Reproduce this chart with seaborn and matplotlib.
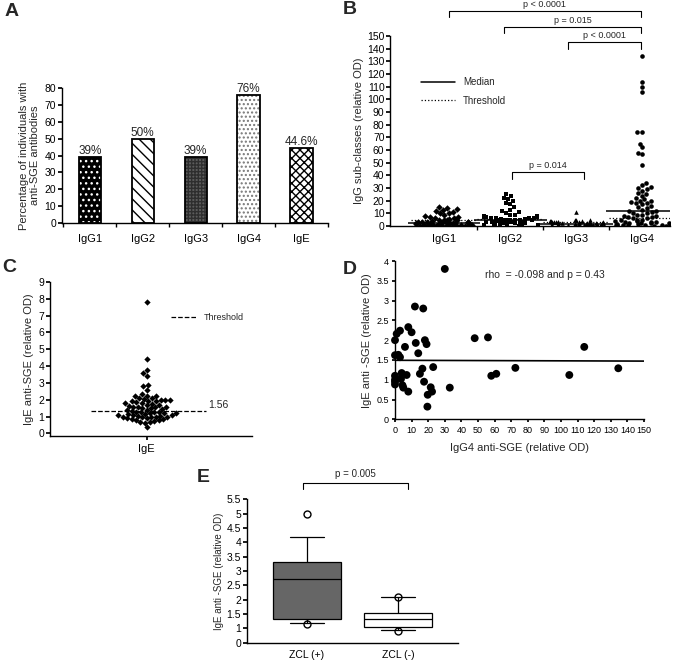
"""
Five-panel antibody figure (A-E) recreated with seaborn.
"""

import warnings
import numpy as np
import pandas as pd
import matplotlib
matplotlib.use("Agg")
import matplotlib.pyplot as plt
from matplotlib.lines import Line2D
from matplotlib.patches import Rectangle
from matplotlib.ticker import FuncFormatter
import seaborn as sns

warnings.filterwarnings("ignore")
np.random.seed(3)  # only for the horizontal jitter of the dense strip points

# ---------------- data ----------------
# A: share of positive individuals
ab_classes = ["IgG1", "IgG2", "IgG3", "IgG4", "IgE"]
pct_positive = [39, 50, 39, 76, 44.6]
pct_labels = ["39%", "50%", "39%", "76%", "44.6%"]

# B: IgG sub-classes (relative OD)
igg_classes = ["IgG1", "IgG2", "IgG3", "IgG4"]
igg1 = [15, 14, 13.5, 12.5, 12, 11, 10.5, 10, 9, 8, 7.5, 7, 6.5, 6, 5.5, 5, 5,
        4.5, 4.5, 4, 4, 3.5, 3.5, 3, 3, 3, 2.5, 2.5, 2.5, 2, 2, 2, 2, 1.5, 1.5,
        1.5, 1.5, 1.2, 1.2, 1, 1, 1, 1, 0.8, 0.8, 0.6, 0.6, 0.5, 0.5, 0.5, 0.4,
        0.3, 0.3, 0.3, 0.2, 0.2, 0.2, 0.1, 0.1, 0.1]
igg2 = [25, 24, 22, 21, 20, 18, 17, 15, 13, 12, 11, 10, 9, 9, 8, 8, 7, 7, 7, 6,
        6, 6, 6, 5.5, 5.5, 5, 5, 5, 5, 4.5, 4.5, 4.5, 4, 4, 4, 4, 3.5, 3.5, 3.5,
        3, 3, 3, 3, 2.5, 2.5, 2.5, 2, 2, 2, 2, 1.5, 1.5, 1.2, 1, 1, 0.8, 0.5, 0.3]
igg3 = [11, 5, 4.5, 4.5, 4, 4, 4, 3.5, 3.5, 3.5, 3, 3, 3, 3, 2.5, 2.5, 2.5, 2,
        2, 2, 2, 1.5, 1.5, 1.5, 1.5, 1.2, 1.2, 1.2, 1, 1, 1, 1, 0.8, 0.8, 0.6,
        0.6, 0.5, 0.5, 0.4, 0.4, 0.3, 0.3, 0.2, 0.2, 0.1, 0.1, 0.1]
igg4 = [134, 114, 110, 106, 74, 74, 65, 62, 58, 57, 48, 34, 32, 31, 30, 29, 28,
        26, 25, 24, 22, 21, 20, 20, 19, 18, 18, 17, 16, 15, 14, 13, 12, 12, 11,
        10, 10, 9, 9, 8, 8, 7, 7, 6, 6, 5, 5, 4.5, 4, 4, 3.5, 3, 3, 2.5, 2.5, 2,
        2, 1.5, 1.5, 1, 1, 1, 0.8, 0.6, 0.5, 0.5, 0.3, 0.2]
igg_values = [igg1, igg2, igg3, igg4]
igg_thresholds = [5, 5.5, 3.5, 6]
igg_pvals = ["p < 0.0001", "p = 0.015", "p < 0.0001", "p = 0.014"]

# C: IgE anti-SGE
ige_values = [7.8, 4.4, 3.8, 3.6, 3.4, 2.85, 2.8, 2.6, 2.35, 2.25, 2.2, 2.2,
              2.1, 2.1, 2.05, 2.0, 2.0, 2.0, 1.95, 1.9, 1.9, 1.85, 1.8, 1.8,
              1.75, 1.7, 1.7, 1.65, 1.6, 1.6, 1.6, 1.55, 1.5, 1.5, 1.45, 1.4,
              1.4, 1.35, 1.3, 1.3, 1.3, 1.25, 1.2, 1.2, 1.2, 1.15, 1.15, 1.1,
              1.1, 1.1, 1.05, 1.05, 1.0, 1.0, 1.0, 0.95, 0.95, 0.9, 0.9, 0.85,
              0.85, 0.8, 0.8, 0.75, 0.7, 0.7, 0.65, 0.4]
ige_threshold = 1.35
ige_threshold_label = "1.56"

# D: IgG4 vs IgE
igg4_od = [30, 12, 17, 1, 3, 8, 10, 0, 6, 12.5, 18, 19, 14, 0, 2, 3, 48, 56,
           72.5, 58, 61, 0, 4, 7, 0, 0, 0, 3.6, 4.5, 5, 8, 15, 16.5, 23, 17.5,
           21.5, 22.3, 19.7, 19.5, 33, 105, 114, 134.5]
ige_od = [3.8, 2.85, 2.8, 2.16, 2.24, 2.33, 2.2, 2.0, 1.83, 1.93, 2.0, 1.9,
          1.67, 1.62, 1.63, 1.57, 2.05, 2.07, 1.3, 1.1, 1.15, 1.1, 1.17, 1.12,
          1.0, 0.95, 0.88, 1.02, 0.86, 0.8, 0.7, 1.15, 1.28, 1.32, 0.95, 0.81,
          0.7, 0.62, 0.32, 0.8, 1.12, 1.83, 1.29]
corr_text = "rho  = -0.098 and p = 0.43"

# E: IgE by ZCL status
zcl_groups = ["ZCL (+)", "ZCL (-)"]
zcl_pos = [1.15, 1.2, 1.3, 1.36, 2.1, 2.72, 2.9, 3.2, 3.4, 4.2, 5.0]
zcl_neg = [0.92, 0.95, 1.0, 1.06, 1.2, 1.33, 1.4, 1.5, 1.6, 2.08, 2.1]
zcl_pval = "p = 0.005"

# ---------------- style ----------------
sns.set_theme(style="ticks")
plt.rcParams["font.family"] = ["Liberation Sans", "DejaVu Sans"]
plt.rcParams["hatch.linewidth"] = 1.0
plt.rcParams["axes.linewidth"] = 1.0
plt.rcParams["axes.edgecolor"] = "black"
plt.rcParams["xtick.color"] = "black"
plt.rcParams["ytick.color"] = "black"

fig = plt.figure(figsize=(6.75, 6.64), dpi=100)
axA = fig.add_axes([0.0914, 0.6642, 0.3945, 0.2028])
axB = fig.add_axes([0.5778, 0.6596, 0.4148, 0.2862])
axC = fig.add_axes([0.0740, 0.3434, 0.2990, 0.2319])
axD = fig.add_axes([0.5852, 0.3685, 0.3689, 0.2384])
axE = fig.add_axes([0.3655, 0.0321, 0.3130, 0.2160])


def bracket(ax, x0, x1, y, drop, text, fs=6.5, gap=1.5):
    ax.plot([x0, x0, x1, x1], [y - drop, y, y, y - drop], color="black",
            lw=0.8, clip_on=False)
    ax.text((x0 + x1) / 2, y + gap, text, ha="center", va="bottom",
            fontsize=fs, clip_on=False)


# ---------------- A ----------------
df_a = pd.DataFrame({"cls": ab_classes, "pct": pct_positive})
sns.barplot(data=df_a, x="cls", y="pct", ax=axA, width=0.42, color="white",
            saturation=1)
bar_styles = [("black", "white", "..."),
              ("white", "black", "\\\\\\"),
              ("#5c5c5c", "#2e2e2e", "+++++"),
              ("white", "#777777", "...."),
              ("white", "black", "xxxx")]
bars = list(axA.patches)
for bar, (fc, hc, h) in zip(bars, bar_styles):
    bar.set_facecolor(fc)
    bar.set_edgecolor(hc)
    bar.set_hatch(h)
    bar.set_linewidth(0)
    axA.add_patch(Rectangle((bar.get_x(), bar.get_y()), bar.get_width(),
                            bar.get_height(), fill=False, edgecolor="black",
                            linewidth=1.3, zorder=3))
axA.bar_label(axA.containers[0], labels=pct_labels, padding=0, fontsize=8.5)
axA.set_xlim(-0.53, 4.49)
axA.set_ylim(0, 80)
axA.set_yticks(range(0, 81, 10))
axA.set_xticks(range(5), ab_classes)
axA.set_xticks(np.arange(-0.5, 4.6, 1), minor=True)
axA.tick_params(axis="x", which="major", length=0, labelsize=8, pad=8)
axA.tick_params(axis="x", which="minor", length=3)
axA.tick_params(axis="y", length=3, labelsize=7.5, pad=1)
axA.set_xlabel("")
axA.set_ylabel("Percentage of individuals with\nanti-SGE antibodies",
               fontsize=8, labelpad=3)
sns.despine(ax=axA)

# ---------------- B ----------------
# dense low band is jittered, the sparser upper values form a swarm column
markers = ["D", "s", "^", "o"]
for name, vals, mk in zip(igg_classes, igg_values, markers):
    arr = np.asarray(vals)
    low, high = arr[arr < 5], arr[arr >= 5]
    sns.stripplot(x=[name] * len(low), y=low, order=igg_classes, ax=axB,
                  color="black", marker=mk, size=3.3, linewidth=0,
                  jitter=0.45)
    sns.swarmplot(x=[name] * len(high), y=high, order=igg_classes, ax=axB,
                  color="black", marker=mk, size=3.3, linewidth=0)
for i, (vals, thr) in enumerate(zip(igg_values, igg_thresholds)):
    axB.hlines(np.median(vals), i - 0.55, i + 0.55, color="black", lw=1.1)
    axB.hlines(thr, i - 0.5, i + 0.5, color="black", lw=0.9, ls=":")
axB.set_xlim(-0.82, 3.42)
axB.set_ylim(0, 150)
axB.set_yticks(range(0, 151, 10))
axB.set_xticks(range(4), igg_classes)
axB.set_xticks([0.5, 1.5, 2.5], minor=True)
axB.tick_params(axis="x", which="major", length=0, labelsize=8, pad=6)
axB.tick_params(axis="x", which="minor", length=3)
axB.tick_params(axis="y", length=3, labelsize=7.5, pad=1)
axB.set_ylabel("IgG sub-classes (relative OD)", fontsize=8, labelpad=2)
sns.despine(ax=axB)
bracket(axB, 0.07, 2.98, 170, 5, igg_pvals[0])
bracket(axB, 0.91, 2.98, 157, 5, igg_pvals[1])
bracket(axB, 1.88, 2.98, 145.5, 6, igg_pvals[2])
bracket(axB, 1.03, 2.12, 43, 5.5, igg_pvals[3])
axB.legend(handles=[Line2D([], [], color="black", lw=1.1),
                    Line2D([], [], color="black", lw=0.9, ls=":")],
           labels=["Median", "Threshold"], loc="upper left",
           bbox_to_anchor=(0.08, 0.83), frameon=False, fontsize=7,
           handlelength=3.5, labelspacing=0.9)

# ---------------- C ----------------
sns.swarmplot(x=["IgE"] * len(ige_values), y=ige_values, ax=axC,
              color="black", marker="D", size=3.2, linewidth=0)
axC.hlines(ige_threshold, -0.57, 0.62, color="black", lw=0.9, ls="--")
axC.text(0.64, ige_threshold + 0.05, ige_threshold_label, fontsize=7.5,
         va="bottom", ha="left")
axC.set_xlim(-1.0, 1.09)
axC.set_ylim(-0.15, 9)
axC.set_yticks(range(0, 10))
axC.tick_params(axis="x", length=3, labelsize=8, pad=3)
axC.tick_params(axis="y", length=3, labelsize=7.5, pad=1)
axC.set_ylabel("IgE anti-SGE (relative OD)", fontsize=8, labelpad=3)
sns.despine(ax=axC)
axC.legend(handles=[Line2D([], [], color="black", lw=0.9, ls="--")],
           labels=["Threshold"], loc="center left",
           bbox_to_anchor=(0.56, 0.77), frameon=False, fontsize=6.5,
           handlelength=2.8)

# ---------------- D ----------------
axD.set_xlim(0, 150)
axD.set_ylim(0, 4)
sns.scatterplot(x=igg4_od, y=ige_od, ax=axD, color="black", s=32,
                edgecolor="none", clip_on=False, zorder=3)
sns.regplot(x=igg4_od, y=ige_od, ax=axD, scatter=False, ci=None,
            truncate=False, color="black", line_kws={"lw": 1.2})
axD.set_xlim(0, 150)
axD.set_ylim(0, 4)
axD.set_xticks(range(0, 151, 10))
axD.set_yticks(np.arange(0, 4.01, 0.5))
axD.yaxis.set_major_formatter(FuncFormatter(lambda v, _: f"{v:g}"))
axD.tick_params(length=2.5, labelsize=6.5, pad=2)
axD.set_xlabel("IgG4 anti-SGE (relative OD)", fontsize=8, labelpad=6)
axD.set_ylabel("IgE anti -SGE (relative OD)", fontsize=8, labelpad=3)
axD.text(0.6, 0.91, corr_text, transform=axD.transAxes, ha="center",
         va="center", fontsize=7.5)
sns.despine(ax=axD)

# ---------------- E ----------------
df_e = pd.DataFrame({
    "grp": [zcl_groups[0]] * len(zcl_pos) + [zcl_groups[1]] * len(zcl_neg),
    "val": zcl_pos + zcl_neg,
})
sns.boxplot(data=df_e, x="grp", y="val", hue="grp", ax=axE,
            palette=["#666666", "white"], saturation=1, whis=(10, 90),
            width=0.75, linecolor="black", linewidth=0.9, legend=False,
            flierprops=dict(marker="o", markerfacecolor="none",
                            markeredgecolor="black", markersize=5))
axE.set_xlim(-0.66, 1.66)
axE.set_ylim(0.5, 5.5)
axE.set_yticks(np.arange(0.5, 5.51, 0.5))
axE.yaxis.set_major_formatter(
    FuncFormatter(lambda v, _: "0" if v < 0.75 else f"{v:g}"))
axE.tick_params(axis="x", length=0, labelsize=7.5, pad=5)
axE.tick_params(axis="y", length=3, labelsize=7.5, pad=1)
axE.set_xlabel("")
axE.set_ylabel("IgE anti -SGE (relative OD)", fontsize=7, labelpad=2)
sns.despine(ax=axE)
bracket(axE, -0.04, 1.11, 6.07, 0.22, zcl_pval, fs=7, gap=0.12)

# ---------------- panel letters ----------------
for letter, (x, y) in zip("ABCDE", [(0.006, 0.982), (0.508, 0.986),
                                     (0.004, 0.597), (0.508, 0.594),
                                     (0.292, 0.281)]):
    fig.text(x, y, letter, fontsize=14, fontweight="bold", va="center")

fig.savefig("out.png", dpi=100)
plt.close(fig)
